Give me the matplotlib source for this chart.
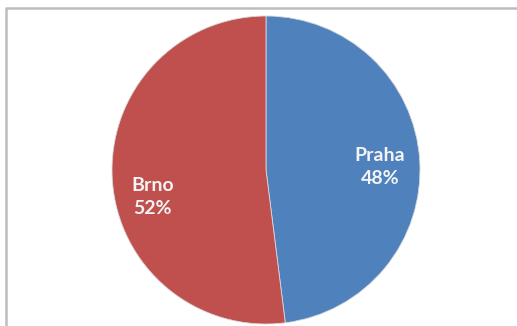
import matplotlib

matplotlib.use("Agg")
import matplotlib.pyplot as plt
from matplotlib.lines import Line2D

# city shares, clockwise from 12 o'clock
cities = ["Praha", "Brno"]
shares = [48, 52]
colors = ["#4F81BD", "#C0504D"]

W, H = 517, 326
fig = plt.figure(figsize=(W / 100, H / 100), dpi=100)
fig.patch.set_facecolor("white")

# chart-area frame (runs off the right and bottom edges)
fig.add_artist(Line2D([6 / W, 6 / W, 1.02], [-0.02, 1 - 8 / H, 1 - 8 / H],
                      transform=fig.transFigure, color="#BDBDBD", linewidth=1.8))

cx, cy, r = 266, 170, 154
ax = fig.add_axes([(cx - r) / W, 1 - (cy + r) / H, 2 * r / W, 2 * r / H])
wedges, _ = ax.pie(shares, colors=colors, startangle=90, counterclock=False,
                   radius=1.0, wedgeprops=dict(linewidth=0.6, edgecolor="#D8D8D8"))
ax.set_xlim(-1, 1)
ax.set_ylim(-1, 1)
ax.set_aspect("equal")
ax.axis("off")

# label anchors in data units of the pie
label_pos = [(0.74, 0.02), (-0.735, -0.175)]
for name, val, (x, y) in zip(cities, shares, label_pos):
  ax.text(x, y, f"{name}\n{val}%", ha="center", va="center", color="#F4F4F4",
          fontsize=14, fontweight="bold", family=["Lato", "DejaVu Sans"],
          linespacing=1.4)

fig.savefig("out.png", dpi=100)
